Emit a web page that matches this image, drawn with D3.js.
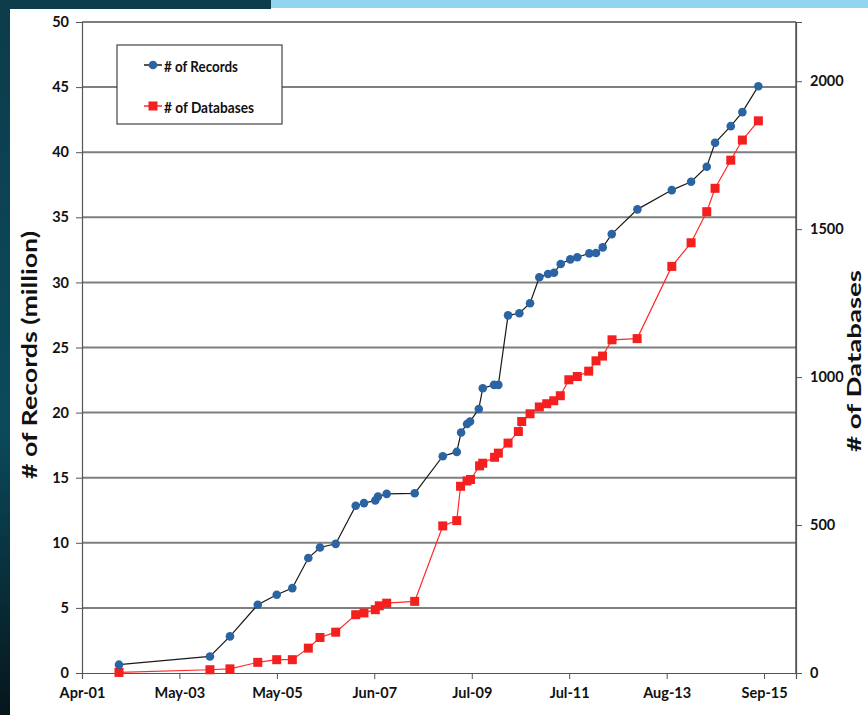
<!DOCTYPE html>
<html>
<head>
<meta charset="utf-8">
<script src="https://cdn.jsdelivr.net/npm/d3@7"></script>
<style>
  html, body { margin: 0; padding: 0; background: #fff; }
  #chart { width: 868px; height: 715px; }
  text { font-family: Lato, "Open Sans", sans-serif; font-weight: bold; fill: #111; }
</style>
</head>
<body>
<div id="chart"></div>
<script>
// x values are decimal years
const recordYears = [2002.056, 2003.979, 2004.401, 2004.987, 2005.388, 2005.718, 2006.056, 2006.303, 2006.635,
    2007.058, 2007.233, 2007.472, 2007.529, 2007.713, 2008.304, 2008.896, 2009.192, 2009.283, 2009.409,
    2009.473, 2009.657, 2009.741, 2009.980, 2010.071, 2010.276, 2010.515, 2010.741, 2010.937, 2011.121,
    2011.248, 2011.389, 2011.592, 2011.740, 2011.994, 2012.135, 2012.277, 2012.467, 2013.008, 2013.735,
    2014.143, 2014.474, 2014.650, 2014.982, 2015.227, 2015.565];
const recordMillions = [0.64, 1.27, 2.81, 5.24, 6.01, 6.52, 8.83, 9.64, 9.92, 12.84, 13.05, 13.25, 13.55,
    13.76, 13.80, 16.65, 16.98, 18.47, 19.13, 19.31, 20.28, 21.87, 22.13, 22.13, 27.47, 27.63, 28.40,
    30.39, 30.64, 30.74, 31.41, 31.77, 31.93, 32.23, 32.26, 32.69, 33.71, 35.61, 37.09, 37.73, 38.88,
    40.72, 42.00, 43.08, 45.07];

const dbYears = [2002.056, 2003.979, 2004.401, 2004.987, 2005.388, 2005.718, 2006.056, 2006.303, 2006.635,
    2007.058, 2007.233, 2007.472, 2007.556, 2007.713, 2008.304, 2008.896, 2009.192, 2009.272, 2009.409,
    2009.483, 2009.674, 2009.741, 2009.991, 2010.071, 2010.276, 2010.494, 2010.565, 2010.741, 2010.937,
    2011.094, 2011.242, 2011.381, 2011.561, 2011.740, 2011.981, 2012.135, 2012.273, 2012.473, 2013.002,
    2013.735, 2014.143, 2014.474, 2014.650, 2014.982, 2015.227, 2015.565];
const dbCounts = [2, 11, 14, 36, 45, 45, 84, 120, 138, 197, 203, 214, 227, 236, 242, 497, 515, 631, 649,
    654, 700, 709, 729, 743, 777, 816, 850, 876, 899, 910, 920, 937, 991, 1002, 1020, 1055, 1071, 1126,
    1130, 1374, 1454, 1559, 1638, 1733, 1801, 1866];

const xTickYears = [2001.274, 2003.333, 2005.392, 2007.450, 2009.509, 2011.568, 2013.627, 2015.686];
const xTickLabels = ["Apr-01", "May-03", "May-05", "Jun-07", "Jul-09", "Jul-11", "Aug-13", "Sep-15"];
const leftTicks = [0, 5, 10, 15, 20, 25, 30, 35, 40, 45, 50];
const rightTicks = [0, 500, 1000, 1500, 2000];

function yearToDate(y) {
    const yr = Math.floor(y);
    const start = Date.UTC(yr, 0, 1), end = Date.UTC(yr + 1, 0, 1);
    return new Date(start + (y - yr) * (end - start));
}

function renderChart() {
    const W = 868, H = 715;
    const plot = { left: 82, right: 796, top: 22, bottom: 673 };

    const svg = d3.select("#chart").append("svg")
        .attr("width", W)
        .attr("height", H);

    // slide background bits around the chart
    const defs = svg.append("defs");
    const grad = defs.append("linearGradient").attr("id", "side").attr("x1", 0).attr("y1", 0).attr("x2", 0).attr("y2", 1);
    grad.append("stop").attr("offset", "0%").attr("stop-color", "#0d3c4b");
    grad.append("stop").attr("offset", "60%").attr("stop-color", "#0b4a5c");
    grad.append("stop").attr("offset", "100%").attr("stop-color", "#06161c");
    svg.append("rect").attr("x", 0).attr("y", 0).attr("width", 10).attr("height", H).attr("fill", "url(#side)");
    svg.append("rect").attr("x", 0).attr("y", 0).attr("width", 271).attr("height", 9).attr("fill", "#0d3c4b");
    svg.append("rect").attr("x", 271).attr("y", 0).attr("width", W - 271).attr("height", 8).attr("fill", "#93d4ef");

    const x = d3.scaleUtc()
        .domain([yearToDate(2001.274), yearToDate(2016.36)])
        .range([plot.left, plot.right]);
    const yL = d3.scaleLinear().domain([0, 50]).range([plot.bottom, plot.top]);
    const yR = d3.scaleLinear().domain([0, 2200]).range([plot.bottom, plot.top]);

    // gridlines
    svg.append("g")
        .selectAll("line")
        .data(leftTicks.filter(d => d > 0))
        .join("line")
        .attr("x1", plot.left).attr("x2", plot.right)
        .attr("y1", d => yL(d)).attr("y2", d => yL(d))
        .attr("stroke", "#7f7f7f")
        .attr("stroke-width", 2);

    // right border
    svg.append("line")
        .attr("x1", plot.right).attr("x2", plot.right)
        .attr("y1", plot.top).attr("y2", plot.bottom)
        .attr("stroke", "#555").attr("stroke-width", 1.5);

    // Axes
    const axL = svg.append("g")
        .attr("transform", `translate(${plot.left},0)`)
        .call(d3.axisLeft(yL).tickValues(leftTicks).tickSize(6).tickPadding(7));
    const axR = svg.append("g")
        .attr("transform", `translate(${plot.right},0)`)
        .call(d3.axisRight(yR).tickValues(rightTicks).tickFormat(d3.format("d")).tickSize(6).tickPadding(8));
    const axB = svg.append("g")
        .attr("transform", `translate(0,${plot.bottom})`)
        .call(d3.axisBottom(x)
            .tickValues(xTickYears.map(yearToDate))
            .tickFormat((d, i) => xTickLabels[i])
            .tickSize(6).tickPadding(9));

    [axL, axR, axB].forEach(ax => {
        ax.select(".domain").attr("stroke", "#555").attr("stroke-width", 1.2);
        ax.selectAll(".tick line").attr("stroke", "#555");
        ax.selectAll("text")
            .style("font-family", "Lato, sans-serif")
            .style("font-weight", "bold")
            .style("font-size", "14.5px")
            .attr("fill", "#111");
    });

    // Lines
    const recData = recordYears.map((d, i) => ({ date: yearToDate(d), v: recordMillions[i] }));
    const dbData = dbYears.map((d, i) => ({ date: yearToDate(d), v: dbCounts[i] }));

    svg.append("path")
        .datum(dbData)
        .attr("fill", "none")
        .attr("stroke", "#ff2a2a")
        .attr("stroke-width", 1.2)
        .attr("d", d3.line().x(d => x(d.date)).y(d => yR(d.v)));

    svg.append("path")
        .datum(recData)
        .attr("fill", "none")
        .attr("stroke", "#1a1a1a")
        .attr("stroke-width", 1.2)
        .attr("d", d3.line().x(d => x(d.date)).y(d => yL(d.v)));

    // Markers
    svg.append("g")
        .selectAll("rect")
        .data(dbData)
        .join("rect")
        .attr("x", d => x(d.date) - 4.5)
        .attr("y", d => yR(d.v) - 4.5)
        .attr("width", 9).attr("height", 9)
        .attr("fill", "#f41f1f");

    svg.append("g")
        .selectAll("circle")
        .data(recData)
        .join("circle")
        .attr("cx", d => x(d.date))
        .attr("cy", d => yL(d.v))
        .attr("r", 4.3)
        .attr("fill", "#2b64a3");

    // Legend
    const lg = svg.append("g");
    lg.append("rect")
        .attr("x", 117).attr("y", 45).attr("width", 165).attr("height", 79)
        .attr("fill", "#fff").attr("stroke", "#444").attr("stroke-width", 1.2);
    const entries = [
        { label: "# of Records", y: 65, color: "#2b64a3", line: "#1a1a1a", shape: "circle", len: 74 },
        { label: "# of Databases", y: 106, color: "#f41f1f", line: "#ff2a2a", shape: "square", len: 90 }
    ];
    entries.forEach(e => {
        lg.append("line")
            .attr("x1", 144).attr("x2", 162).attr("y1", e.y).attr("y2", e.y)
            .attr("stroke", e.line).attr("stroke-width", 1.5);
        if (e.shape === "circle") {
            lg.append("circle").attr("cx", 153).attr("cy", e.y).attr("r", 4.3).attr("fill", e.color);
        } else {
            lg.append("rect").attr("x", 148.5).attr("y", e.y - 4.5).attr("width", 9).attr("height", 9).attr("fill", e.color);
        }
        lg.append("text")
            .attr("x", 164).attr("y", e.y)
            .attr("dominant-baseline", "central")
            .attr("textLength", e.len)
            .attr("lengthAdjust", "spacingAndGlyphs")
            .style("font-size", "16px")
            .text(e.label);
    });

    // Axis titles
    svg.append("text")
        .attr("transform", "translate(37,355) rotate(-90)")
        .attr("text-anchor", "middle")
        .attr("textLength", 248)
        .attr("lengthAdjust", "spacingAndGlyphs")
        .style("font-size", "20px")
        .text("# of Records (million)");

    svg.append("text")
        .attr("transform", "translate(861,361) rotate(-90)")
        .attr("text-anchor", "middle")
        .attr("textLength", 182)
        .attr("lengthAdjust", "spacingAndGlyphs")
        .style("font-size", "18px")
        .text("# of Databases");
}

renderChart();
</script>
</body>
</html>
